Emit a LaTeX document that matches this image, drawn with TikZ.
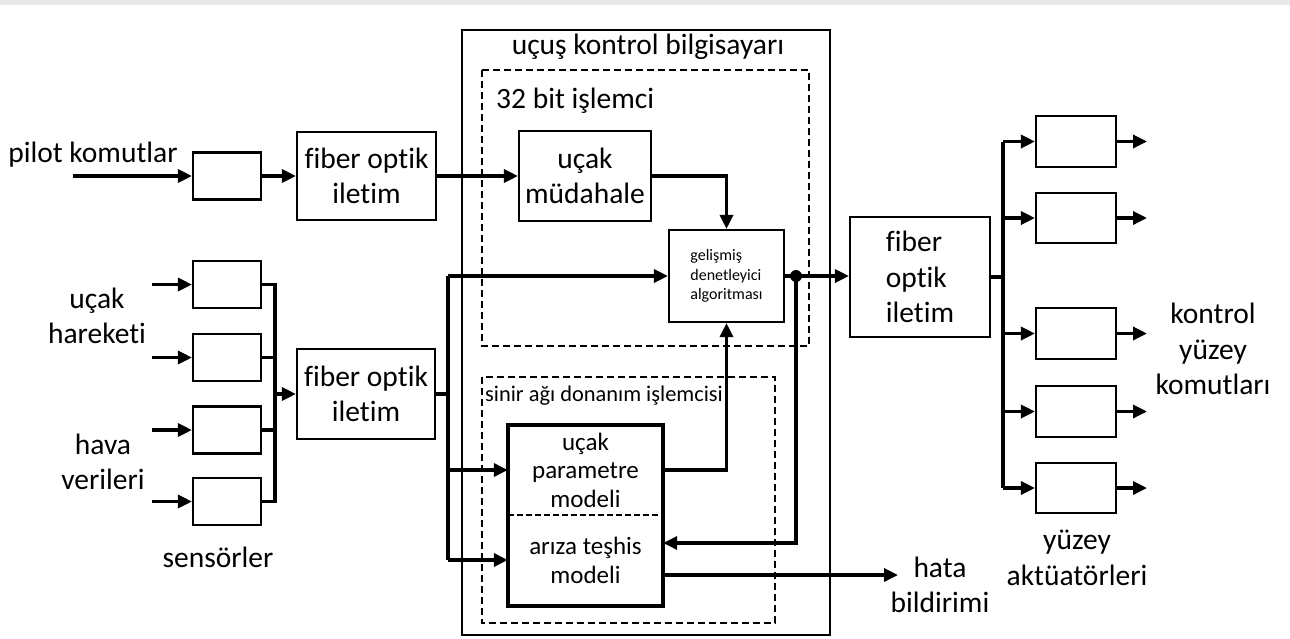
\documentclass[tikz,border=0pt]{standalone}
\usepackage{fontspec}
\setmainfont{Carlito}[Ligatures=NoCommon]
\usetikzlibrary{arrows.meta}
\newcommand\myfA{\fontsize{29.5}{35.5}\selectfont}
\newcommand\myfB{\fontsize{25}{28.5}\selectfont}
\newcommand\myfC{\fontsize{22.4}{26}\selectfont}
\newcommand\myfD{\fontsize{16}{19.5}\selectfont}
\definecolor{topgrey}{HTML}{E7E8EA}
\begin{document}
\begin{tikzpicture}[x=1pt,y=-1pt,
  blk/.style={draw, line width=2.1pt, inner sep=0pt, align=center, font=\myfA},
  lbl/.style={inner sep=0pt, align=center, font=\myfA},
  ln/.style={line width=3.3pt},
  arr/.style={line width=3.3pt, -{Triangle[length=14pt,width=13pt]}},
  dsh/.style={draw, line width=2pt, dash pattern=on 7pt off 4pt},
  frame/.style={draw, line width=2.3pt}]
\useasboundingbox (0,0) rectangle (1290,638);
\fill[topgrey] (0,0) rectangle (1290,5);

% outer containers
\draw[frame] (462,30) rectangle (830,635);
\node[lbl] (title) at (648,47) {uçuş kontrol bilgisayarı};
\draw[dsh] (482,70) rectangle (809,346);
\node[lbl, anchor=west] (t32) at (496,101) {32 bit işlemci};
\draw[dsh] (482,377) rectangle (775,623);
\node[lbl, anchor=west, font=\myfC] (tnn) at (485,396) {sinir ağı donanım işlemcisi};

% left: pilot
\node[lbl] (pilot) at (93,155) {pilot komutlar};
\coordinate (pin) at (73,176);
\node[blk, minimum width=68pt, minimum height=47pt] (s0) at (227,176) {};
\node[blk, minimum width=139pt, minimum height=88pt] (f1) at (366.5,176) {fiber optik\\iletim};

% sensors
\node[blk, minimum width=68pt, minimum height=47pt] (s1) at (227,284.5) {};
\node[blk, minimum width=68pt, minimum height=47pt] (s2) at (227,357.5) {};
\node[blk, minimum width=68pt, minimum height=47pt] (s3) at (227,430) {};
\node[blk, minimum width=68pt, minimum height=47pt] (s4) at (227,501.5) {};
\coordinate (si1) at (152,284.5);
\coordinate (si2) at (152,357.5);
\coordinate (si3) at (152,430);
\coordinate (si4) at (152,501.5);
\node[lbl] (ucakh) at (97,316) {uçak\\hareketi};
\node[lbl] (hava) at (103,462) {hava\\verileri};
\node[lbl] (sens) at (218,557) {sensörler};
\node[blk, minimum width=138pt, minimum height=90pt] (f2) at (366,394) {fiber optik\\iletim};
\coordinate (bx) at (275,394);

% inside computer
\node[blk, minimum width=132pt, minimum height=90pt] (um) at (585,176) {uçak\\müdahale};
\node[blk, minimum width=115pt, minimum height=92pt, font=\myfD, align=left] (gd) at (726.5,276) {gelişmiş\\denetleyici\\algoritması};
\node[inner sep=0pt, minimum width=155pt, minimum height=90pt, align=center, font=\myfB] (pmU) at (585.5,470) {uçak\\parametre\\modeli};
\node[inner sep=0pt, minimum width=155pt, minimum height=91pt, align=center, font=\myfB] (pmL) at (585.5,560.5) {arıza teşhis\\modeli};
\draw[line width=3.6pt] (pmU.north west) rectangle (pmL.south east);
\draw[line width=1.8pt, dash pattern=on 6pt off 3pt] (pmU.south west) -- (pmU.south east);

\coordinate (v) at (448,394);
\coordinate (vt) at (448,276);
\coordinate (vb) at (448,560);
\coordinate (j) at (796,276);
\coordinate (jb) at (796,543);
\coordinate (hx) at (898,575);
\node[lbl] (hata) at (940,585) {hata\\bildirimi};

% right
\node[blk, minimum width=140pt, minimum height=120pt, align=left] (f3) at (920,277) {fiber\\optik\\iletim};
\coordinate (ob) at (1003,277);
\node[blk, minimum width=80pt, minimum height=51pt] (a1) at (1076,141.5) {};
\node[blk, minimum width=80pt, minimum height=50pt] (a2) at (1076,218) {};
\node[blk, minimum width=80pt, minimum height=51pt] (a3) at (1076,333.5) {};
\node[blk, minimum width=80pt, minimum height=51pt] (a4) at (1076,411.5) {};
\node[blk, minimum width=80pt, minimum height=50pt] (a5) at (1076,488) {};
\coordinate (o1) at (1147,141.5);
\coordinate (o2) at (1147,218);
\coordinate (o3) at (1147,333.5);
\coordinate (o4) at (1147,411.5);
\coordinate (o5) at (1147,488);
\node[lbl] (kyk) at (1213,349) {kontrol\\yüzey\\komutları};
\node[lbl] (ya) at (1077,558) {yüzey\\aktüatörleri};

% connectors
\draw[arr] (pin) -- (s0.west);
\draw[arr] (s0) -- (f1);
\draw[arr] (f1) -- (um);
\draw[arr] (um.east) -| (gd.north);

\draw[arr] (si1) -- (s1);
\draw[arr] (si2) -- (s2);
\draw[arr] (si3) -- (s3);
\draw[arr] (si4) -- (s4);
\draw[ln] (s1.east) -| (bx) |- (s4.east);
\draw[ln] (s2.east) -- (s2.east -| bx);
\draw[ln] (s3.east) -- (s3.east -| bx);
\draw[arr] (bx) -- (f2.west);

\draw[ln] (f2.east) -- (v);
\draw[ln] (vt) -- (vb);
\draw[arr] (vt) -- (gd.west);
\draw[arr] (v |- pmU.west) -- (pmU.west);
\draw[arr] (vb) -- (vb -| pmL.west);

\draw[arr] (pmU.east) -| (gd.south);
\draw[arr] (gd.east) -- (gd.east -| f3.west);
\fill (j) circle (6pt);
\draw[arr] (j) -- (jb) -- (jb -| pmL.east);
\draw[arr] (hx -| pmL.east) -- (hx);

\draw[ln] (f3.east) -- (ob);
\draw[ln] (a1.west -| ob) -- (a5.west -| ob);
\draw[arr] (a1.west -| ob) -- (a1.west);
\draw[arr] (a2.west -| ob) -- (a2.west);
\draw[arr] (a3.west -| ob) -- (a3.west);
\draw[arr] (a4.west -| ob) -- (a4.west);
\draw[arr] (a5.west -| ob) -- (a5.west);
\draw[arr] (a1) -- (o1);
\draw[arr] (a2) -- (o2);
\draw[arr] (a3) -- (o3);
\draw[arr] (a4) -- (o4);
\draw[arr] (a5) -- (o5);
\end{tikzpicture}
\end{document}
